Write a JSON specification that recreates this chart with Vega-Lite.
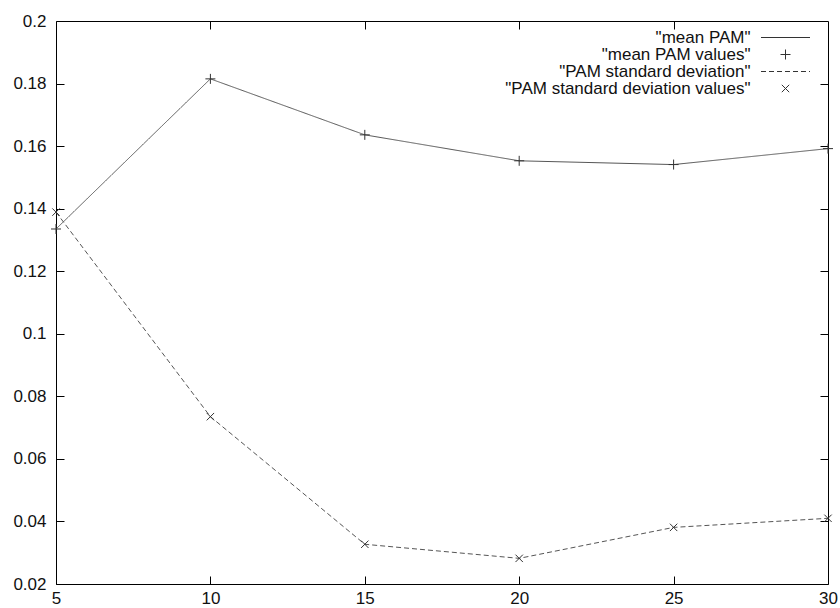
{
  "$schema": "https://vega.github.io/schema/vega-lite/v6.json",
  "width": 772,
  "height": 563,
  "autosize": "none",
  "padding": {"left": 56, "top": 21, "right": 12, "bottom": 24},
  "background": "white",
  "config": {
    "view": {"stroke": "#000", "strokeWidth": 1},
    "axis": {
      "labelFont": "Liberation Sans",
      "labelFontSize": 17,
      "labelColor": "#111",
      "tickColor": "#000",
      "tickWidth": 1,
      "domain": false,
      "grid": false,
      "title": null
    }
  },
  "data": {
    "values": [
      {"x": 5, "v": 0.1335, "line": "mean PAM", "pts": "mean PAM values"},
      {"x": 10, "v": 0.1815, "line": "mean PAM", "pts": "mean PAM values"},
      {"x": 15, "v": 0.1636, "line": "mean PAM", "pts": "mean PAM values"},
      {"x": 20, "v": 0.1553, "line": "mean PAM", "pts": "mean PAM values"},
      {"x": 25, "v": 0.1541, "line": "mean PAM", "pts": "mean PAM values"},
      {"x": 30, "v": 0.1592, "line": "mean PAM", "pts": "mean PAM values"},
      {"x": 5, "v": 0.1389, "line": "PAM standard deviation", "pts": "PAM standard deviation values"},
      {"x": 10, "v": 0.0735, "line": "PAM standard deviation", "pts": "PAM standard deviation values"},
      {"x": 15, "v": 0.0327, "line": "PAM standard deviation", "pts": "PAM standard deviation values"},
      {"x": 20, "v": 0.0282, "line": "PAM standard deviation", "pts": "PAM standard deviation values"},
      {"x": 25, "v": 0.0381, "line": "PAM standard deviation", "pts": "PAM standard deviation values"},
      {"x": 30, "v": 0.0410, "line": "PAM standard deviation", "pts": "PAM standard deviation values"}
    ]
  },
  "layer": [
    {
      "mark": {"type": "line", "stroke": "#555", "strokeWidth": 1},
      "encoding": {
        "x": {
          "field": "x", "type": "quantitative",
          "scale": {"domain": [5, 30], "nice": false, "zero": false},
          "axis": {"orient": "bottom", "values": [5, 10, 15, 20, 25, 30], "tickSize": -8, "labelPadding": 14, "labelFlush": false}
        },
        "y": {
          "field": "v", "type": "quantitative",
          "scale": {"domain": [0.02, 0.2], "nice": false, "zero": false},
          "axis": {"orient": "left", "values": [0.02, 0.04, 0.06, 0.08, 0.1, 0.12, 0.14, 0.16, 0.18, 0.2], "format": "~g", "tickSize": -8, "labelPadding": 18}
        },
        "detail": {"field": "line"},
        "strokeDash": {
          "field": "line", "type": "nominal",
          "scale": {"domain": ["mean PAM", "PAM standard deviation"], "range": [[1, 0], [5, 3]]},
          "legend": null
        }
      }
    },
    {
      "mark": {"type": "point", "filled": false, "stroke": "#333", "strokeWidth": 1, "opacity": 1, "size": 121},
      "encoding": {
        "x": {
          "field": "x", "type": "quantitative",
          "axis": {"orient": "top", "values": [10, 15, 20, 25], "tickSize": -8, "labels": false}
        },
        "y": {
          "field": "v", "type": "quantitative",
          "axis": {"orient": "right", "values": [0.04, 0.06, 0.08, 0.1, 0.12, 0.14, 0.16, 0.18], "tickSize": -8, "labels": false}
        },
        "shape": {
          "field": "pts", "type": "nominal",
          "scale": {
            "domain": ["mean PAM", "mean PAM values", "PAM standard deviation", "PAM standard deviation values"],
            "range": [
              "M-4.4545,0L4.4545,0",
              "M-0.909,0L0.909,0M0,-0.909L0,0.909",
              "M-4.4545,0L-3.545,0M-3.0,0L-2.091,0M-1.545,0L-0.636,0M-0.091,0L0.818,0M1.364,0L2.273,0M2.818,0L3.727,0M4.273,0L4.4545,0",
              "M-0.673,-0.673L0.673,0.673M-0.673,0.673L0.673,-0.673"
            ]
          },
          "legend": {
            "title": null, "orient": "none", "legendX": 721, "legendY": 8,
            "rowPadding": -1.5, "padding": 0, "symbolSize": 121,
            "labelAlign": "right", "labelOffset": -43.5, "labelLimit": 400,
            "labelFont": "Liberation Sans", "labelFontSize": 17, "labelColor": "#111",
            "symbolStrokeWidth": 1, "symbolStrokeColor": "#333", "symbolFillColor": "transparent",
            "labelExpr": "'\"' + datum.label + '\"'"
          }
        }
      }
    }
  ],
  "resolve": {"axis": {"x": "independent", "y": "independent"}}
}
